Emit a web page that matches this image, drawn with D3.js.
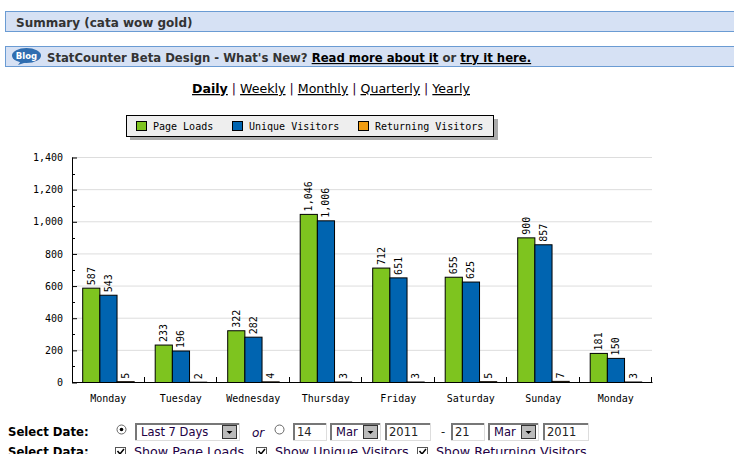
<!DOCTYPE html>
<html>
<head>
<meta charset="utf-8">
<script src="https://cdn.jsdelivr.net/npm/d3@7"></script>
<style>
html,body{margin:0;padding:0;background:#fff;overflow:hidden}
svg{display:block}
.sans{font-family:"DejaVu Sans",sans-serif}
.mono{font-family:"DejaVu Sans Mono",monospace;font-size:10px;fill:#000}
.axis path,.axis line{stroke:#000}
.axis text{font-family:"DejaVu Sans Mono",monospace;font-size:10px;fill:#000}
</style>
</head>
<body>
<div id="chart"></div>
<script>
var days = ["Monday","Tuesday","Wednesday","Thursday","Friday","Saturday","Sunday","Monday"];
var pageLoads = [587,233,322,1046,712,655,900,181];
var uniqueVisitors = [543,196,282,1006,651,625,857,150];
var returningVisitors = [5,2,4,3,3,5,7,3];
var seriesNames = ["Page Loads","Unique Visitors","Returning Visitors"];
var seriesColors = ["#7ec41f","#0064b0","#f09c10"];
var yTicks = [0,200,400,600,800,1000,1200,1400];
var yMinorTicks = [100,300,500,700,900,1100,1300];
var navLinks = ["Daily","Weekly","Monthly","Quarterly","Yearly"];

var series = [pageLoads,uniqueVisitors,returningVisitors];
var idx = days.map(function(d,i){return i;});

var svg = d3.select("#chart").append("svg").attr("width",734).attr("height",454);

function txt(x,y,s,size,weight,color,cls){
    return svg.append("text").attr("class",cls||"sans").attr("x",x).attr("y",y)
        .attr("font-size",size).attr("font-weight",weight||"normal").attr("fill",color||"#000").text(s);
}
function banner(y,h){
    svg.append("rect").attr("x",5.5).attr("y",y).attr("width",740).attr("height",h)
        .attr("fill","#d6e1f4").attr("stroke","#6a9bd3");
}

// header bars
banner(11.5,20);
txt(16,27,"Summary (cata wow gold)",12,"bold","#333");
banner(46.5,20);
svg.append("ellipse").attr("cx",26.5).attr("cy",55.5).attr("rx",14.5).attr("ry",7.5).attr("fill","#2f6db0");
svg.append("path").attr("d","M21 61 L18 65 L27 62 Z").attr("fill","#2f6db0");
txt(26.5,59,"Blog",8.5,"bold","#fff").attr("text-anchor","middle");
var t = txt(47,62,"",11.66,"bold","#333");
t.append("tspan").text("StatCounter Beta Design - What's New? ");
t.append("tspan").attr("fill","#000").attr("text-decoration","underline").text("Read more about it");
t.append("tspan").text(" or ");
t.append("tspan").attr("fill","#000").attr("text-decoration","underline").text("try it here.");

// period links
var nav = txt(331,93,"",12.6,"normal","#000").attr("text-anchor","middle");
navLinks.forEach(function(n,i){
    if(i>0) nav.append("tspan").attr("fill","#303").text(" | ");
    nav.append("tspan").attr("text-decoration","underline").attr("font-weight",i==0?"bold":"normal").text(n);
});

// legend
svg.append("rect").attr("x",130).attr("y",119).attr("width",368).attr("height",21).attr("fill","#aaa");
svg.append("rect").attr("x",126.5).attr("y",115.5).attr("width",367).attr("height",21)
    .attr("fill","#eee").attr("stroke","#000");
var legendX = [136.5,232.5,358.5];
seriesNames.forEach(function(n,i){
    svg.append("rect").attr("x",legendX[i]).attr("y",121.5).attr("width",10).attr("height",9)
        .attr("fill",seriesColors[i]).attr("stroke","#000");
    txt(legendX[i]+16.5,130,n,10,"normal","#000","mono");
});

// chart
var y = d3.scaleLinear().domain([0,1400]).range([382.5,157.5]);
var x0 = d3.scaleBand().domain(idx).range([72,652]);
var x1 = d3.scaleBand().domain([0,1,2]).range([10.7,62.2]);

svg.append("g").selectAll("line").data(yTicks.slice(1)).enter().append("line")
    .attr("x1",72).attr("x2",652).attr("y1",y).attr("y2",y)
    .attr("stroke","#ddd");

var group = svg.append("g").selectAll("g").data(idx).enter().append("g")
    .attr("transform",function(i){return "translate("+x0(i)+",0)";});

series.forEach(function(vals,s){
    group.append("rect")
        .attr("x",function(){return x1(s);})
        .attr("y",function(i){return y(vals[i]);})
        .attr("width",x1.bandwidth())
        .attr("height",function(i){return y(0)-y(vals[i]);})
        .attr("fill",seriesColors[s])
        .attr("stroke","#000");
    group.append("text").attr("class","mono")
        .attr("transform",function(i){
            return "translate("+(x1(s)+x1.bandwidth()/2+3.5)+","+(y(vals[i])-3)+") rotate(-90)";
        })
        .text(function(i){return d3.format(",")(vals[i]);});
});

var yAxis = d3.axisLeft(y).tickValues(yTicks).tickFormat(d3.format(",")).tickSize(-5).tickPadding(9);
svg.append("g").attr("class","axis").attr("transform","translate(72,0)").call(yAxis)
    .selectAll(".domain").attr("d","M0.5,157.5V382.5");
svg.append("g").attr("class","axis").selectAll("line").data(yMinorTicks).enter().append("line")
    .attr("x1",72).attr("x2",75).attr("y1",function(d){return Math.round(y(d))+0.5;}).attr("y2",function(d){return Math.round(y(d))+0.5;});

var xAxis = d3.axisBottom(x0).tickFormat(function(i){return days[i];}).tickSize(0).tickPadding(12);
svg.append("g").attr("class","axis").attr("transform","translate(0,382.5)").call(xAxis)
    .selectAll(".domain").attr("d","M72,0H652.5");
svg.append("g").attr("class","axis").selectAll("line").data(idx).enter().append("line")
    .attr("x1",function(i){return Math.round(x0(i)+x0.step())-0.5;})
    .attr("x2",function(i){return Math.round(x0(i)+x0.step())-0.5;})
    .attr("y1",382.5).attr("y2",377);

// form controls
function inset(x,w){
    svg.append("rect").attr("x",x+0.5).attr("y",423.5).attr("width",w).attr("height",17)
        .attr("fill","#fff").attr("stroke","#ddd");
    svg.append("path").attr("d","M"+(x+1)+" 440V424H"+(x+w)).attr("fill","none").attr("stroke","#777").attr("stroke-width",2);
}
function input(x,w,s){
    inset(x,w);
    txt(x+4,436,s,11.5,"normal","#222");
}
function select(x,w,s){
    inset(x,w);
    txt(x+6,436,s,11.5,"normal","#204");
    svg.append("rect").attr("x",x+w-16.5).attr("y",425.5).attr("width",14).attr("height",13)
        .attr("fill","#bbb").attr("stroke","#333");
    svg.append("path").attr("d","M"+(x+w-12.5)+" 431h6l-3 3z").attr("fill","#000");
}
function radio(x,on){
    svg.append("circle").attr("cx",x).attr("cy",429.5).attr("r",4.5).attr("fill","#fff").attr("stroke","#666");
    if(on) svg.append("circle").attr("cx",x).attr("cy",429.5).attr("r",1.8).attr("fill","#000");
}
function check(x,s){
    svg.append("rect").attr("x",x+0.5).attr("y",447.5).attr("width",10).attr("height",10).attr("fill","#fff").attr("stroke","#555");
    svg.append("path").attr("d","M"+(x+2.5)+" 451l2.5 3l4 -5").attr("fill","none").attr("stroke","#000").attr("stroke-width",1.5);
    txt(x+19,456,s,12.7,"normal","#204");
}
txt(8,436,"Select Date:",11.7,"bold","#000");
txt(8,456,"Select Data:",11.7,"bold","#000");
radio(121.5,true);
select(135,104,"Last 7 Days");
txt(252,437,"or",12,"normal","#204").attr("font-style","italic");
radio(279.5,false);
input(293,33,"14");
select(330,50,"Mar");
input(385,45,"2011");
txt(441,436,"-",11.5,"normal","#222");
input(451,33,"21");
select(488,50,"Mar");
input(543,45,"2011");
check(115,"Show Page Loads");
check(256,"Show Unique Visitors");
check(417,"Show Returning Visitors");
</script>
</body>
</html>
